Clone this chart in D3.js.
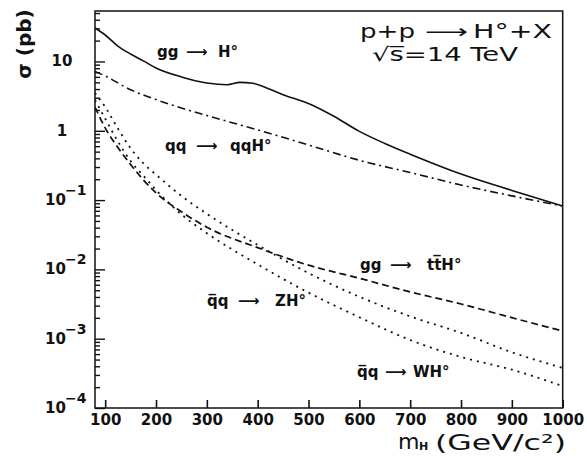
<!DOCTYPE html>
<html>
<head>
<meta charset="utf-8">
<script src="https://cdn.jsdelivr.net/npm/d3@7"></script>
<style>
	body { margin: 0; background: #fff; }
	svg { display: block; }
	text { font-family: "DejaVu Sans", sans-serif; fill: #111; }
	.tick-label { font-weight: bold; font-size: 15px; }
	.curve-label { font-weight: bold; font-size: 15px; }
	.title { font-size: 19px; }
	.axis-title { font-size: 22px; }
</style>
</head>
<body>
<div id="chart"></div>
<script>
// Higgs mass grid (GeV/c^2) and cross sections (pb)
const ggHMass  = [80, 100, 125, 150, 175, 200, 250, 300, 340, 365, 390, 420, 450, 500, 550, 600, 650, 700, 800, 900, 1000];
const ggHSigma = [30.4, 24.1, 16.7, 12.8, 10.2, 8.06, 5.98, 4.9, 4.62, 5.0, 4.85, 4.08, 3.32, 2.48, 1.62, 0.98, 0.656, 0.46, 0.238, 0.138, 0.082];

const qqHMass  = [80, 100, 150, 200, 250, 300, 400, 500, 600, 700, 800, 900, 1000];
const qqHSigma = [7.2, 6.18, 3.91, 2.82, 2.13, 1.66, 1.03, 0.624, 0.375, 0.250, 0.165, 0.115, 0.082];

const assocMass = [80, 100, 125, 150, 175, 200, 250, 300, 400, 500, 600, 700, 800, 900, 1000];
const ttHSigma  = [2.20, 1.10, 0.574, 0.327, 0.196, 0.127, 0.0678, 0.0406, 0.0206, 0.0115, 0.00745, 0.00473, 0.00317, 0.00201, 0.00129];
const WHSigma   = [3.51, 2.21, 1.08, 0.561, 0.340, 0.233, 0.115, 0.0634, 0.0225, 0.00885, 0.00403, 0.00210, 0.00121, 0.000637, 0.000378];
const ZHSigma   = [2.78, 1.50, 0.702, 0.366, 0.226, 0.140, 0.0622, 0.0333, 0.0118, 0.00462, 0.00204, 0.000957, 0.000545, 0.000357, 0.000207];

// tick values
const xTicks = [100, 200, 300, 400, 500, 600, 700, 800, 900, 1000];
const yDecades = [1e-4, 1e-3, 1e-2, 1e-1, 1, 10];
const yExponents = [-4, -3, -2, -1, 0, 1];

function drawChart(container){
	const width = 587, height = 456;
	const margin = {top: 11, right: 24.3, bottom: 48, left: 95};
	const innerWidth = width - margin.left - margin.right,
		innerHeight = height - margin.top - margin.bottom;

	const svg = d3.select(container)
		.append('svg')
			.attr('width', width)
			.attr('height', height);

	const plot = svg.append('g')
		.attr('transform', `translate(${margin.left},${margin.top})`);

	const x = d3.scaleLinear()
		.domain([80, 1000])
		.range([0, innerWidth]);

	const y = d3.scaleLog()
		.domain([1e-4, 53.5])
		.range([innerHeight, 0]);

	// minor ticks 2..9 in every decade
	const yMinor = [];
	yDecades.forEach(dec => {
		for (let k = 2; k <= 9; k++){
			const v = dec * k;
			if (v < y.domain()[1]) yMinor.push(v);
		}
	});

	plot.append('defs').append('clipPath')
		.attr('id', 'plot-clip')
		.append('rect')
			.attr('width', innerWidth)
			.attr('height', innerHeight);

	// Y ticks point into the plot
	const yMajorAxis = plot.append('g')
		.call(d3.axisRight(y).tickValues(yDecades).tickSize(10).tickFormat(''));
	const yMinorAxis = plot.append('g')
		.call(d3.axisRight(y).tickValues(yMinor).tickSize(5).tickFormat(''));
	[yMajorAxis, yMinorAxis].forEach(g => {
		g.select('.domain').remove();
		g.selectAll('line').attr('stroke', '#111').attr('stroke-width', 1.4);
	});

	// Y tick labels, 10 with superscript exponent
	yDecades.forEach((d, i) => {
		const e = yExponents[i];
		const t = plot.append('text')
			.classed('tick-label', true)
			.attr('y', y(d) + 5);
		if (e >= 0){
			t.attr('x', 62 - margin.left)
				.attr('text-anchor', 'middle')
				.text(e === 0 ? '1' : '10');
		} else {
			t.attr('x', 45 - margin.left).text('10');
			plot.append('text')
				.classed('tick-label', true)
				.attr('x', 65 - margin.left)
				.attr('y', y(d) - 5)
				.style('font-size', '14px')
				.text('\u2212' + Math.abs(e));
		}
	});

	// X axis: ticks pointing up, labels below
	const xAxis = plot.append('g')
		.attr('transform', `translate(0,${innerHeight})`)
		.call(d3.axisBottom(x).tickValues(xTicks).tickSizeInner(-8).tickSizeOuter(0)
			.tickPadding(6).tickFormat(d3.format('d')));
	xAxis.select('.domain').remove();
	xAxis.selectAll('line').attr('stroke', '#111').attr('stroke-width', 1.6);
	xAxis.selectAll('text')
		.attr('font-family', null)
		.attr('fill', null)
		.classed('tick-label', true);
	xAxis.attr('font-size', null).attr('font-family', null);

	// frame
	plot.append('rect')
		.attr('width', innerWidth)
		.attr('height', innerHeight)
		.attr('fill', 'none')
		.attr('stroke', '#111')
		.attr('stroke-width', 1.5);

	// curves
	const line = d3.line()
		.x(d => x(d.m))
		.y(d => y(d.s))
		.curve(d3.curveMonotoneX);

	const zip = (ms, ss) => ms.map((m, i) => ({m: m, s: ss[i]}));

	const curves = [
		{name: 'ggH', data: zip(ggHMass, ggHSigma), dash: null, w: 1.6},
		{name: 'qqH', data: zip(qqHMass, qqHSigma), dash: '8,4,2,4', w: 1.6},
		{name: 'ttH', data: zip(assocMass, ttHSigma), dash: '7,4', w: 1.7},
		{name: 'WH', data: zip(assocMass, WHSigma), dash: '2,5', w: 1.8},
		{name: 'ZH', data: zip(assocMass, ZHSigma), dash: '2,5', w: 1.8}
	];

	plot.append('g')
		.attr('clip-path', 'url(#plot-clip)')
		.selectAll('path')
		.data(curves)
		.enter()
		.append('path')
			.attr('class', d => 'curve curve--' + d.name)
			.attr('d', d => line(d.data))
			.attr('fill', 'none')
			.attr('stroke', '#111')
			.attr('stroke-width', d => d.w)
			.attr('stroke-dasharray', d => d.dash);

	// process labels, pieces in page pixels
	const labels = [
		{y: 57, parts: [['gg', 157], ['\u27F6', 186], ['H\u00B0', 218]]},
		{y: 151, parts: [['qq', 165], ['\u27F6', 196], ['qqH\u00B0', 230]]},
		{y: 270, parts: [['gg', 360], ['\u27F6', 390], ['tt\u0305H\u00B0', 427]]},
		{y: 306, parts: [['q\u0305q', 207], ['\u27F6', 238], ['ZH\u00B0', 275]]},
		{y: 377, parts: [['q\u0305q', 357], ['\u27F6', 385], ['WH\u00B0', 413]]}
	];
	labels.forEach(l => {
		l.parts.forEach(p => {
			svg.append('text')
				.classed('curve-label', true)
				.attr('x', p[1])
				.attr('y', l.y)
				.text(p[0]);
		});
	});

	// title
	svg.append('text').classed('title', true)
		.attr('x', 360).attr('y', 38)
		.attr('textLength', 55).attr('lengthAdjust', 'spacingAndGlyphs')
		.text('p+p');
	svg.append('text').classed('title', true)
		.attr('x', 425).attr('y', 38)
		.attr('textLength', 43).attr('lengthAdjust', 'spacingAndGlyphs')
		.text('\u27F6');
	svg.append('text').classed('title', true)
		.attr('x', 473).attr('y', 38)
		.attr('textLength', 79).attr('lengthAdjust', 'spacingAndGlyphs')
		.text('H\u00B0+X');
	svg.append('text').classed('title', true)
		.attr('x', 372).attr('y', 61)
		.attr('textLength', 146).attr('lengthAdjust', 'spacingAndGlyphs')
		.text('\u221As\u0305=14 TeV');

	// axis titles
	svg.append('text')
		.classed('axis-title', true)
		.style('font-weight', 'bold')
		.style('font-size', '20px')
		.attr('text-anchor', 'middle')
		.attr('transform', 'translate(31,44) rotate(-90)')
		.text('\u03C3 (pb)');

	svg.append('text').classed('axis-title', true)
		.attr('x', 398).attr('y', 449)
		.text('m');
	svg.append('text').classed('axis-title', true)
		.style('font-size', '11px')
		.style('font-weight', 'bold')
		.attr('x', 419).attr('y', 450)
		.text('H');
	svg.append('text').classed('axis-title', true)
		.style('font-size', '21px')
		.attr('x', 435).attr('y', 450)
		.attr('textLength', 131).attr('lengthAdjust', 'spacingAndGlyphs')
		.text('(GeV/c\u00B2)');
}

drawChart('#chart');
</script>
</body>
</html>
